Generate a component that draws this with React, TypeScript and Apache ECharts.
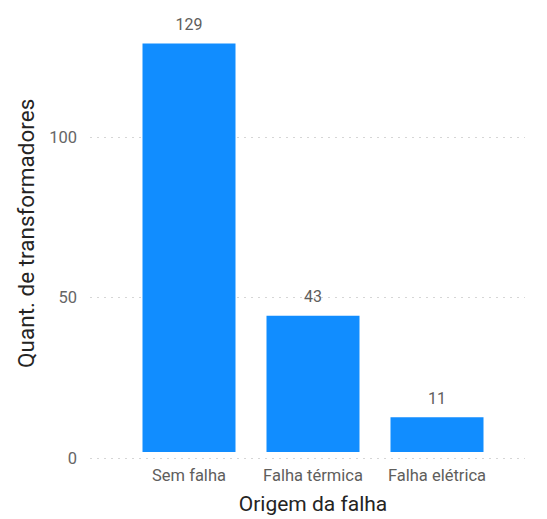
import React, { useEffect, useRef } from "react";
import * as echarts from "echarts";

const categories = ["Sem falha", "Falha térmica", "Falha elétrica"];
const values = [129, 43, 11];
const yTicks = [0, 50, 100];

const FONT = "Roboto, 'Noto Sans', sans-serif";

export default function App() {
  const ref = useRef<HTMLDivElement>(null);
  useEffect(() => {
    if (!ref.current) return;
    const chart = echarts.init(ref.current, undefined, { renderer: "svg" });
    chart.setOption({
      animation: false,
      grid: [
        { left: 127, right: 48, top: 8.6, bottom: 61 },
        { left: 90, right: 22, top: 8.6, bottom: 61 },
      ],
      xAxis: [
        {
          type: "category",
          gridIndex: 0,
          data: categories,
          axisLine: { show: false },
          axisTick: { show: false },
          axisLabel: { color: "#605E5C", fontSize: 16.5, fontFamily: FONT, margin: 15, interval: 0 },
          name: "Origem da falha",
          nameLocation: "middle",
          nameGap: 41,
          nameTextStyle: { color: "#252423", fontSize: 21, fontFamily: FONT },
        },
        { type: "value", gridIndex: 1, min: 0, max: 1, show: false },
      ],
      yAxis: [
        {
          type: "value",
          gridIndex: 0,
          min: 0,
          max: 140,
          interval: 50,
          show: false,
          splitLine: { show: false },
        },
        {
          type: "value",
          gridIndex: 1,
          min: 0,
          max: 140,
          interval: 50,
          axisLine: { show: false },
          axisTick: { show: false },
          axisLabel: {
            color: "#666666",
            fontSize: 16.5,
            fontFamily: FONT,
            margin: 13,
            formatter: (v: number) => (yTicks.includes(v) ? String(v) : ""),
          },
          splitLine: {
            show: true,
            showMaxLine: false,
            lineStyle: { color: "#D6D6D6", type: [2, 5], width: 1 },
          },
          name: "Quant. de transformadores",
          nameLocation: "middle",
          nameGap: 53,
          nameTextStyle: { color: "#252423", fontSize: 22.5, fontFamily: FONT },
        },
      ],
      series: [
        {
          type: "bar",
          xAxisIndex: 0,
          yAxisIndex: 0,
          data: values,
          barWidth: 93,
          itemStyle: { color: "#118DFF" },
          label: {
            show: true,
            position: "top",
            distance: 11,
            color: "#605E5C",
            fontSize: 16,
            fontFamily: FONT,
          },
        },
      ],
    });
    return () => chart.dispose();
  }, []);
  return (
    <div
      ref={ref}
      style={{ position: "absolute", left: 0, top: 0, width: 547, height: 519, background: "#fff" }}
    />
  );
}
